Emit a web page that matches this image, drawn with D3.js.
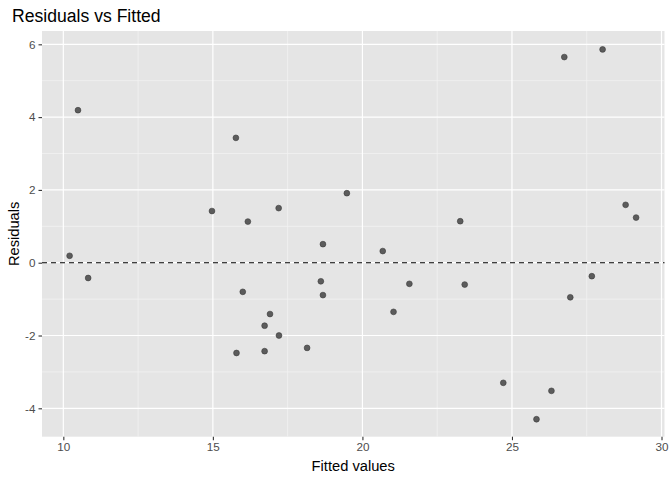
<!DOCTYPE html>
<html>
<head>
<meta charset="utf-8">
<script src="https://cdn.jsdelivr.net/npm/d3@7"></script>
<style>
  body { margin: 0; background: #fff; }
  text { font-family: "Liberation Sans", Arial, sans-serif; }
</style>
</head>
<body>
<script>
// fitted values and residuals
var fitted = [10.21, 10.83, 10.49, 15.77, 14.97, 16.17, 17.20, 16.00, 16.91, 16.73,
              17.21, 15.79, 16.73, 18.15, 18.68, 18.61, 18.68, 19.48, 23.27, 26.75,
              28.03, 28.80, 29.15, 20.68, 21.57, 21.04, 23.42, 26.95, 27.67, 24.71,
              26.32, 25.82]
var residuals = [0.19, -0.42, 4.19, 3.43, 1.42, 1.13, 1.50, -0.80, -1.41, -1.73,
                 -2.00, -2.48, -2.43, -2.34, 0.51, -0.51, -0.89, 1.91, 1.14, 5.65,
                 5.86, 1.59, 1.24, 0.32, -0.58, -1.35, -0.60, -0.95, -0.37, -3.30,
                 -3.52, -4.30]
var xTicks = [10, 15, 20, 25, 30]
var yTicks = [-4, -2, 0, 2, 4, 6]

var w = 672
var h = 480

var margin = {
  top: 31,
  right: 7.5,
  bottom: 43.3,
  left: 42
}

var width = w - margin.left - margin.right
var height = h - margin.top - margin.bottom

var svg = d3.select('body')
            .append('svg')
            .attr('width', w)
            .attr('height', h)

var chart = svg.append('g')
              .attr('transform', 'translate(' + margin.left + ',' + margin.top + ')')

var x = d3.scaleLinear()
        .domain([9.287, 30.1])
        .range([0, width])

var y = d3.scaleLinear()
        .domain([-4.78, 6.366])
        .range([height, 0])

// PANEL BACKGROUND
chart.append('rect')
    .attr('width', width)
    .attr('height', height)
    .attr('fill', '#e5e5e5')

// MINOR GRID (halfway between majors)
var xMinor = d3.range(12.5, 30, 5)
var yMinor = d3.range(-5, 7, 2).filter(function (d) { return y(d) >= 0 && y(d) <= height })

chart.selectAll('.xminor')
  .data(xMinor)
  .enter()
    .append('line')
    .attr('x1', function (d) { return x(d) })
    .attr('x2', function (d) { return x(d) })
    .attr('y1', 0)
    .attr('y2', height)
    .attr('stroke', '#f2f2f2')
    .attr('stroke-width', 0.8)

chart.selectAll('.yminor')
  .data(yMinor)
  .enter()
    .append('line')
    .attr('x1', 0)
    .attr('x2', width)
    .attr('y1', function (d) { return y(d) })
    .attr('y2', function (d) { return y(d) })
    .attr('stroke', '#f2f2f2')
    .attr('stroke-width', 0.8)

// MAJOR GRID
chart.selectAll('.xmajor')
  .data(xTicks)
  .enter()
    .append('line')
    .attr('x1', function (d) { return x(d) })
    .attr('x2', function (d) { return x(d) })
    .attr('y1', 0)
    .attr('y2', height)
    .attr('stroke', '#fff')
    .attr('stroke-width', 1.2)

chart.selectAll('.ymajor')
  .data(yTicks)
  .enter()
    .append('line')
    .attr('x1', 0)
    .attr('x2', width)
    .attr('y1', function (d) { return y(d) })
    .attr('y2', function (d) { return y(d) })
    .attr('stroke', '#fff')
    .attr('stroke-width', 1.2)

// AXES (plain hyphen for negatives, like R)
var xAxis = chart.append('g')
    .attr('transform', 'translate(0,' + height + ')')
    .call(d3.axisBottom(x).tickValues(xTicks).tickFormat(String).tickSize(3.5).tickPadding(3))
var yAxis = chart.append('g')
    .call(d3.axisLeft(y).tickValues(yTicks).tickFormat(String).tickSize(3.5).tickPadding(3))

;[xAxis, yAxis].forEach(function (a) {
  a.select('.domain').remove()
  a.selectAll('.tick line').attr('stroke', '#333').attr('stroke-width', 1.1)
  a.selectAll('.tick text')
    .attr('fill', '#4d4d4d')
    .style('font-size', '11.7px')
    .style('font-family', '"Liberation Sans", Arial, sans-serif')
})

// ZERO LINE
chart.append('line')
    .attr('x1', 0)
    .attr('x2', width)
    .attr('y1', y(0))
    .attr('y2', y(0))
    .attr('stroke', '#000')
    .attr('stroke-width', 1.1)
    .attr('stroke-dasharray', '5,4')

// POINTS
chart.selectAll('.pt')
  .data(fitted)
  .enter()
    .append('circle')
    .attr('cx', function (d) { return x(d) })
    .attr('cy', function (d, i) { return y(residuals[i]) })
    .attr('r', 2.9)
    .attr('fill', '#5c5c5c')
    .attr('stroke', '#3a3a3a')
    .attr('stroke-width', 0.6)

// TITLES
svg.append('text')
    .attr('x', 12)
    .attr('y', 21.5)
    .style('font-size', '17.6px')
    .attr('fill', '#000')
    .text('Residuals vs Fitted')

svg.append('text')
    .attr('x', margin.left + width / 2)
    .attr('y', 471)
    .attr('text-anchor', 'middle')
    .style('font-size', '14.7px')
    .text('Fitted values')

svg.append('text')
    .attr('transform', 'translate(19,' + (margin.top + height / 2) + ') rotate(-90)')
    .attr('text-anchor', 'middle')
    .style('font-size', '14.7px')
    .text('Residuals')
</script>
</body>
</html>
